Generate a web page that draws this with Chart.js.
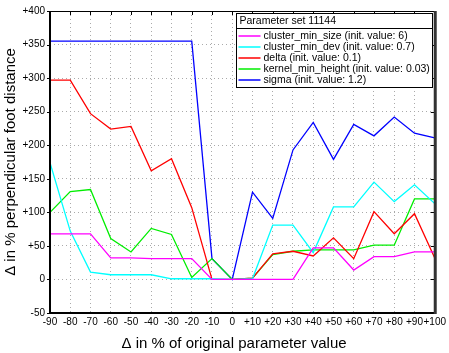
<!DOCTYPE html>
<html>
<head>
<meta charset="utf-8">
<script src="https://cdn.jsdelivr.net/npm/chart.js@4.4.0/dist/chart.umd.min.js"></script>
<style>
    body { margin: 0; background: #fff; }
    canvas { display: block; }
</style>
</head>
<body>
<canvas id="sensitivityChart" width="449" height="353"></canvas>
<script>
// Change of each parameter, in % of its original value
const paramDelta = [-90, -80, -70, -60, -50, -40, -30, -20, -10, 0, 10, 20, 30, 40, 50, 60, 70, 80, 90, 100];
const xTickLabels = ['-90', '-80', '-70', '-60', '-50', '-40', '-30', '-20', '-10', '0',
    '+10', '+20', '+30', '+40', '+50', '+60', '+70', '+80', '+90', '+100'];
const yTickValues = [-50, 0, 50, 100, 150, 200, 250, 300, 350, 400];
const yTickLabels = ['-50', '0', '+50', '+100', '+150', '+200', '+250', '+300', '+350', '+400'];

const legendTitle = 'Parameter set 11144';
const seriesNames = [
    'cluster_min_size (init. value: 6)',
    'cluster_min_dev (init. value: 0.7)',
    'delta (init. value: 0.1)',
    'kernel_min_height (init. value: 0.03)',
    'sigma (init. value: 1.2)'
];

// Change of perpendicular foot distance, in %
const clusterMinSize  = [68, 68, 68, 32, 32, 31, 31, 31, 0, 0, 0, 0, 0, 47, 47, 14, 34, 34, 41, 41];
const clusterMinDev   = [174, 72, 11, 7, 7, 7, 1, 1, 1, 0, 1, 81, 81, 40, 108, 108, 145, 116, 141, 113];
const delta           = [297, 297, 247, 224, 228, 162, 180, 107, 0, 0, 2, 38, 42, 35, 62, 31, 101, 68, 98, 32];
const kernelMinHeight = [100, 131, 134, 61, 41, 76, 67, 3, 31, 0, 2, 37, 42, 44, 44, 44, 51, 51, 120, 120];
const sigma           = [355, 355, 355, 355, 355, 355, 355, 355, 31, 0, 130, 91, 193, 234, 179, 231, 214, 242, 218, 211];

const seriesValues = [clusterMinSize, clusterMinDev, delta, kernelMinHeight, sigma];
const seriesColors = ['#ff00ff', '#00ffff', '#ff0000', '#00ee00', '#0000ff'];

Chart.defaults.font.family = '"Liberation Sans", Arial, sans-serif';
Chart.defaults.color = '#000';

// Draws the axis frame, the small tick marks and the boxed legend
const frameAndLegend = {
    id: 'frameAndLegend',
    afterDraw(chart) {
        const ctx = chart.ctx;
        const a = chart.chartArea;
        const xs = chart.scales.x;
        const ys = chart.scales.y;

        function line(x1, y1, x2, y2) {
            ctx.beginPath();
            ctx.moveTo(x1, y1);
            ctx.lineTo(x2, y2);
            ctx.stroke();
        }

        ctx.save();
        ctx.strokeStyle = '#000';
        ctx.lineWidth = 1;
        xs.ticks.forEach(t => {
            const px = Math.round(xs.getPixelForValue(t.value)) + 0.5;
            line(px, a.top, px, a.top + 4);
        });
        ys.ticks.forEach(t => {
            const py = Math.round(ys.getPixelForValue(t.value)) + 0.5;
            line(a.left - 3, py, a.left, py);
            line(a.right - 4, py, a.right, py);
        });

        // frame
        line(a.left, a.top + 0.5, a.right, a.top + 0.5);
        ctx.lineWidth = 2;
        line(a.left, a.top, a.left, a.bottom + 1);
        line(a.left, a.bottom, a.right, a.bottom);
        ctx.strokeStyle = '#333';
        ctx.lineWidth = 3;
        line(a.right + 0.5, a.top, a.right + 0.5, a.bottom + 1);

        // legend box
        const bx = 236.5, by = 13.5, bw = 196, headH = 15, rowH = 11;
        const bh = headH + rowH * chart.data.datasets.length + 4;
        ctx.fillStyle = '#fff';
        ctx.fillRect(bx, by, bw, bh);
        ctx.strokeStyle = '#000';
        ctx.lineWidth = 1;
        ctx.strokeRect(bx, by, bw, bh);
        line(bx, by + headH, bx + bw, by + headH);

        ctx.fillStyle = '#000';
        ctx.font = '10.5px "Liberation Sans", Arial, sans-serif';
        ctx.textBaseline = 'middle';
        ctx.textAlign = 'left';
        ctx.fillText(legendTitle, bx + 3, by + headH / 2 + 0.5);

        chart.data.datasets.forEach((ds, i) => {
            const cy = by + headH + rowH * i + rowH / 2 + 2;
            ctx.strokeStyle = ds.borderColor;
            ctx.lineWidth = 1.5;
            line(bx + 2, cy, bx + 24, cy);
            ctx.fillStyle = '#000';
            ctx.fillText(ds.label, bx + 27, cy);
        });
        ctx.restore();
    }
};

const ctx = document.getElementById('sensitivityChart').getContext('2d');
new Chart(ctx, {
    type: 'line',
    data: {
        datasets: seriesNames.map((name, i) => ({
            label: name,
            data: paramDelta.map((p, j) => ({ x: p, y: seriesValues[i][j] })),
            borderColor: seriesColors[i],
            backgroundColor: seriesColors[i],
            borderWidth: 1.3,
            pointRadius: 0,
            tension: 0,
            fill: false
        }))
    },
    options: {
        responsive: false,
        animation: false,
        layout: { padding: { top: 10, right: 14, bottom: 0, left: 0 } },
        plugins: {
            legend: { display: false },
            tooltip: { enabled: false }
        },
        scales: {
            x: {
                type: 'linear',
                min: -90,
                max: 100,
                afterFit: scale => { scale.height = 40; },
                ticks: {
                    stepSize: 10,
                    autoSkip: false,
                    maxRotation: 0,
                    padding: 3,
                    font: { size: 10 },
                    callback: value => {
                        const i = paramDelta.indexOf(value);
                        return i >= 0 ? xTickLabels[i] : '';
                    }
                },
                grid: { color: '#aaa', drawTicks: false },
                border: { display: false, dash: [1, 3] },
                title: {
                    display: true,
                    // trailing spaces nudge the centred title a little to the left
                    text: 'Δ in % of original parameter value    ',
                    font: { size: 15 },
                    padding: { top: 0, bottom: 0 }
                }
            },
            y: {
                min: -50,
                max: 400,
                afterFit: scale => { scale.width = 50; },
                ticks: {
                    stepSize: 50,
                    padding: 5,
                    font: { size: 10 },
                    callback: value => {
                        const i = yTickValues.indexOf(value);
                        return i >= 0 ? yTickLabels[i] : '';
                    }
                },
                grid: { color: '#aaa', drawTicks: false },
                border: { display: false, dash: [1, 3] },
                title: {
                    display: true,
                    text: 'Δ in % perpendicular foot distance',
                    font: { size: 15 },
                    padding: { top: 2, bottom: 0 }
                }
            }
        }
    },
    plugins: [frameAndLegend]
});
</script>
</body>
</html>
